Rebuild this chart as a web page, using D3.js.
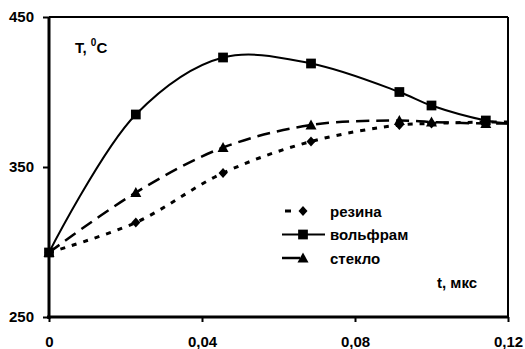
<!DOCTYPE html>
<html>
<head>
<meta charset="utf-8">
<script src="https://d3js.org/d3.v7.min.js"></script>
<style>
body{margin:0;background:#fff;}
text{font-family:"Liberation Sans",Arial,sans-serif;font-weight:bold;fill:#000;}
</style>
</head>
<body>
<svg id="chart" width="525" height="349"></svg>
<script>
// values
var tVals=[0,0.0227,0.0455,0.0685,0.0916,0.1,0.1142,0.12];
var tungsten=[293,385,423,419,400,391,381,379];
var resin=[293,313,346,367,378,379,380,380];
var glass=[293,333,363,378,381,380,379,379];
var seriesNames=["резина","вольфрам","стекло"];
var yTicks=[250,350,450];
var xTicks=[0,0.04,0.08,0.12];

var svg=d3.select("#chart");
var pL=49,pR=508,pT=17,pB=317;

var x=d3.scaleLinear().domain([0,0.12]).range([pL,pR]);
var y=d3.scaleLinear().domain([250,450]).range([pB,pT]);

function pts(vals){
  return tVals.map(function(t,i){ return {t:t,v:vals[i]}; });
}

var line=d3.line()
  .x(function(d){ return x(d.t); })
  .y(function(d){ return y(d.v); })
  .curve(d3.curveCatmullRom.alpha(0.5));

// frame
svg.append("line").attr("x1",pL).attr("x2",pR).attr("y1",pT).attr("y2",pT)
   .attr("stroke","#000").attr("stroke-width",2);
svg.append("line").attr("x1",pR).attr("x2",pR).attr("y1",pT).attr("y2",pB)
   .attr("stroke","#000").attr("stroke-width",2);

// series
var series=[
  {name:seriesNames[0],vals:resin,dash:"5,7",marker:"diamond",w:3},
  {name:seriesNames[1],vals:tungsten,dash:null,marker:"square",w:2},
  {name:seriesNames[2],vals:glass,dash:"13,7",marker:"triangle",w:2.5}
];

function markerPath(type){
  if(type=="square") return d3.symbol().type(d3.symbolSquare).size(95)();
  if(type=="diamond") return "M0,-5L4.5,0L0,5L-4.5,0Z";
  return "M0,-5.5L5.5,4.5L-5.5,4.5Z";
}

series.forEach(function(s){
  var data=pts(s.vals);
  svg.append("path").attr("d",line(data))
     .attr("fill","none").attr("stroke","#000")
     .attr("stroke-width",s.w)
     .attr("stroke-dasharray",s.dash);
  // last point sits on the plot edge and its marker is clipped away
  svg.selectAll(null).data(data.filter(function(d){ return d.t<0.12; }))
     .enter().append("path")
     .attr("d",markerPath(s.marker))
     .attr("transform",function(d){ return "translate("+x(d.t)+","+y(d.v)+")"; })
     .attr("fill","#000");
});

// axes
var yAxis=d3.axisLeft(y).tickValues(yTicks).tickSize(6).tickPadding(9);
var gy=svg.append("g").attr("transform","translate("+pL+",0)").call(yAxis);
var xAxis=d3.axisBottom(x).tickValues(xTicks).tickSize(5).tickPadding(14)
  .tickFormat(function(d){ return d==0 ? "0" : d3.format(".2f")(d).replace(".",","); });
var gx=svg.append("g").attr("transform","translate(0,"+pB+")").call(xAxis);
[gy,gx].forEach(function(g){
  g.select(".domain").attr("stroke","#000").attr("stroke-width",3);
  g.selectAll(".tick line").attr("stroke","#000").attr("stroke-width",2);
  g.selectAll(".tick text").attr("font-size",15).attr("font-family","Liberation Sans, Arial, sans-serif")
   .attr("font-weight","bold").attr("fill","#000");
});
gy.select(".domain").attr("d","M0,"+pT+"V"+(pB+2));
gx.select(".domain").attr("d","M"+(pL-2)+",0H"+pR);

// axis titles
var tt=svg.append("text").attr("x",75).attr("y",53).attr("font-size",15);
tt.append("tspan").text("T, ");
tt.append("tspan").attr("font-size",10).attr("dy",-7).text("0");
tt.append("tspan").attr("dy",7).text("C");
svg.append("text").attr("x",437).attr("y",288).attr("font-size",15).text("t, мкс");

// legend
var lg=svg.append("g");
series.forEach(function(s,i){
  var ly=211+i*23.5;
  var x1=s.marker=="diamond"?285:282;
  var x2=s.marker=="square"?325:(s.marker=="diamond"?291:300);
  lg.append("line").attr("x1",x1).attr("x2",x2).attr("y1",ly).attr("y2",ly)
    .attr("stroke","#000").attr("stroke-width",s.w);
  lg.append("path").attr("d",markerPath(s.marker))
    .attr("transform","translate(303,"+ly+")").attr("fill","#000");
  lg.append("text").attr("x",330).attr("y",ly+5.5).attr("font-size",15).text(s.name);
});
</script>
</body>
</html>
